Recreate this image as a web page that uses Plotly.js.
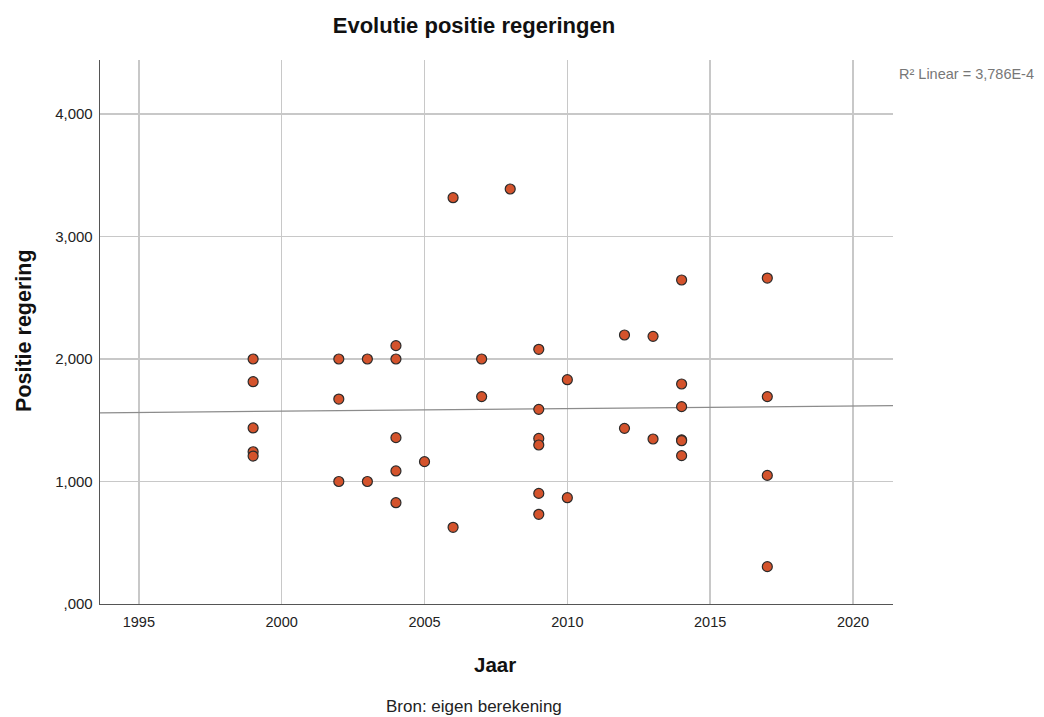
<!DOCTYPE html>
<html><head><meta charset="utf-8">
<script src="https://cdn.plot.ly/plotly-3.0.1.min.js"></script>
<style>html,body{margin:0;padding:0;background:#fff;}#chart{width:1044px;height:717px;}</style>
</head><body><div id="chart"></div>
<script>
const years = [1999,1999,1999,1999,1999,
  2002,2002,2002,
  2003,2003,
  2004,2004,2004,2004,2004,
  2005,
  2006,2006,
  2007,2007,
  2008,
  2009,2009,2009,2009,2009,2009,
  2010,2010,
  2012,2012,
  2013,2013,
  2014,2014,2014,2014,2014,2014,
  2017,2017,2017,2017];
const positie = [2000,1815,1437,1243,1208,
  2000,1673,1000,
  2000,1000,
  2109,2000,1358,1086,827,
  1162,
  3317,626,
  2000,1693,
  3388,
  2079,1589,1352,1298,903,732,
  1831,868,
  2196,1434,
  2185,1347,
  2645,1796,1611,1340,1333,1211,
  2661,1693,1050,305];
const yTickVals = [0,1000,2000,3000,4000];
const yTickText = [",000","1,000","2,000","3,000","4,000"];
const xTickVals = [1995,2000,2005,2010,2015,2020];
const xRange = [1993.64,2021.4];

// least squares fit
const n = years.length;
const mx = years.reduce((a,b)=>a+b,0)/n;
const my = positie.reduce((a,b)=>a+b,0)/n;
let sxy=0,sxx=0;
for(let i=0;i<n;i++){sxy+=(years[i]-mx)*(positie[i]-my);sxx+=(years[i]-mx)**2;}
const slope = sxy/sxx, icpt = my - slope*mx;
const fitX = xRange;
const fitY = fitX.map(x=>icpt+slope*x);

const font = "Liberation Sans, Arial, sans-serif";
const data = [
  {x: fitX, y: fitY, mode:'lines', line:{color:'#8c8c8c', width:1.2}, hoverinfo:'skip', showlegend:false},
  {x: years, y: positie, mode:'markers', type:'scatter',
   marker:{color:'#d4532c', size:10, line:{color:'#2b2b2b', width:1.2}}, showlegend:false}
];
const layout = {
  width:1044, height:717,
  margin:{l:100, r:151, t:60, b:113},
  paper_bgcolor:'#fff', plot_bgcolor:'#fff',
  font:{family:font, color:'#222', size:12},
  title:{text:'Evolutie positie regeringen', font:{family:font, size:22, color:'#111', weight:'bold'},
    x:0.454, xanchor:'center', y:0.965, yanchor:'middle'},
  xaxis:{range:xRange, tickvals:xTickVals, showgrid:true, gridcolor:'#c8c8c8', gridwidth:1.5,
    zeroline:false, showline:true, linecolor:'#555', linewidth:1.3, ticks:'', ticklen:0, ticklabelstandoff:4,
    tickfont:{family:font, size:14.5, color:'#222'}},
  yaxis:{range:[0,4441], tickvals:yTickVals, ticktext:yTickText, showgrid:true, gridcolor:'#c8c8c8', gridwidth:1.5,
    zeroline:false, showline:true, linecolor:'#555', linewidth:1.3, ticks:'', ticklen:0, ticklabelstandoff:3,
    tickfont:{family:font, size:15, color:'#222'}},
  annotations:[
    {text:'Jaar', xref:'paper', yref:'paper', x:0.498, y:-0.112, xanchor:'center', yanchor:'middle', showarrow:false,
     font:{family:font, size:20.5, color:'#111', weight:'bold'}},
    {text:'Bron: eigen berekening', xref:'paper', yref:'paper', x:0.471, y:-0.188, xanchor:'center', yanchor:'middle', showarrow:false,
     font:{family:font, size:17, color:'#222'}},
    {text:'Positie regering', xref:'paper', yref:'paper', x:-0.0958, y:0.502, xanchor:'center', yanchor:'middle', textangle:-90, showarrow:false,
     font:{family:font, size:21.5, color:'#111', weight:'bold'}},
    {text:'R² Linear = 3,786E-4', xref:'paper', yref:'paper', x:1.005, y:0.974, xanchor:'left', yanchor:'middle', showarrow:false,
     font:{family:font, size:14.5, color:'#777'}}
  ]
};
Plotly.newPlot('chart', data, layout, {displayModeBar:false, staticPlot:true});
</script></body></html>
